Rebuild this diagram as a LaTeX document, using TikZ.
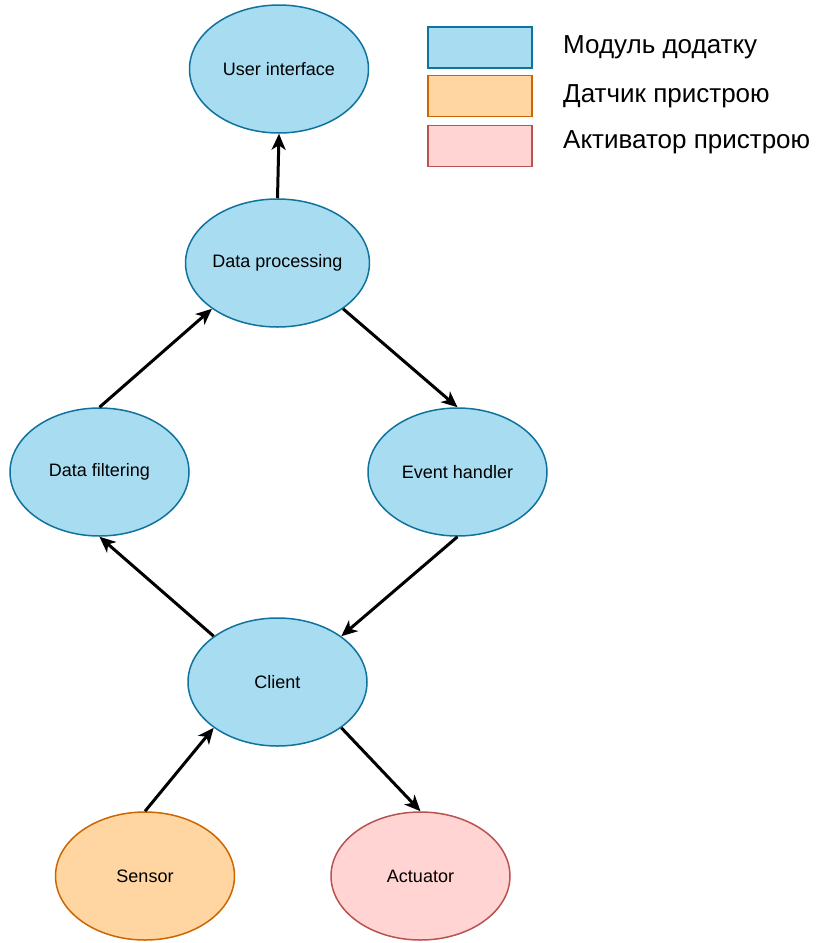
\documentclass[tikz,border=0pt]{standalone}
\usepackage{fontspec}
\setmainfont{Liberation Sans}
\usetikzlibrary{arrows.meta,shapes.geometric}
\definecolor{modfill}{RGB}{167,220,241}
\definecolor{moddraw}{HTML}{10739E}
\definecolor{senfill}{RGB}{255,214,161}
\definecolor{sendraw}{HTML}{CC6600}
\definecolor{actfill}{RGB}{255,212,210}
\definecolor{actdraw}{HTML}{B85450}
\tikzset{
  nodebase/.style={ellipse, minimum width=179pt, minimum height=128pt, inner sep=0pt, line width=1.5pt, font=\fontsize{18}{21}\selectfont},
  modnode/.style={nodebase, draw=moddraw, fill=modfill},
  sennode/.style={nodebase, draw=sendraw, fill=senfill},
  actnode/.style={nodebase, draw=actdraw, fill=actfill},
  legbox/.style={rectangle, minimum width=104pt, minimum height=41pt, inner sep=0pt, line width=1.5pt},
  legtext/.style={anchor=west, inner sep=0pt, font=\fontsize{26}{30}\selectfont},
  conn/.style={line width=3pt, -{Stealth[length=16pt, width=14pt, inset=4.5pt]}}
}
\begin{document}
\begin{tikzpicture}[x=1pt, y=-1pt]
\useasboundingbox (0,0) rectangle (820,943);
\node[modnode] (ui) at (279,69) {User interface};
\node[modnode] (dp) at (277.5,263) {Data processing};
\node[modnode] (df) at (99.5,472) {Data filtering};
\node[modnode] (eh) at (457.5,472) {Event handler};
\node[modnode] (cl) at (277.5,682) {Client};
\node[sennode] (se) at (145,876) {Sensor};
\node[actnode] (ac) at (420.5,876) {Actuator};

\draw[conn] (dp.north) -- (ui.south);
\draw[conn] (df.north) -- (dp.south west);
\draw[conn] (dp.south east) -- (eh.north);
\draw[conn] (eh.south) -- (cl.north east);
\draw[conn] (cl.north west) -- (df.south);
\draw[conn] (se.north) -- (cl.south west);
\draw[conn] (cl.south east) -- (ac.north);

\node[legbox, draw=moddraw, fill=modfill] (l1) at (480,47.5) {};
\node[legbox, draw=sendraw, fill=senfill] (l2) at (480,96) {};
\node[legbox, draw=actdraw, fill=actfill] (l3) at (480,146) {};
\node[legtext] (t1) at (563,47) {Модуль додатку};
\node[legtext] (t2) at (563,96) {Датчик пристрою};
\node[legtext] (t3) at (563,142) {Активатор пристрою};
\end{tikzpicture}
\end{document}
